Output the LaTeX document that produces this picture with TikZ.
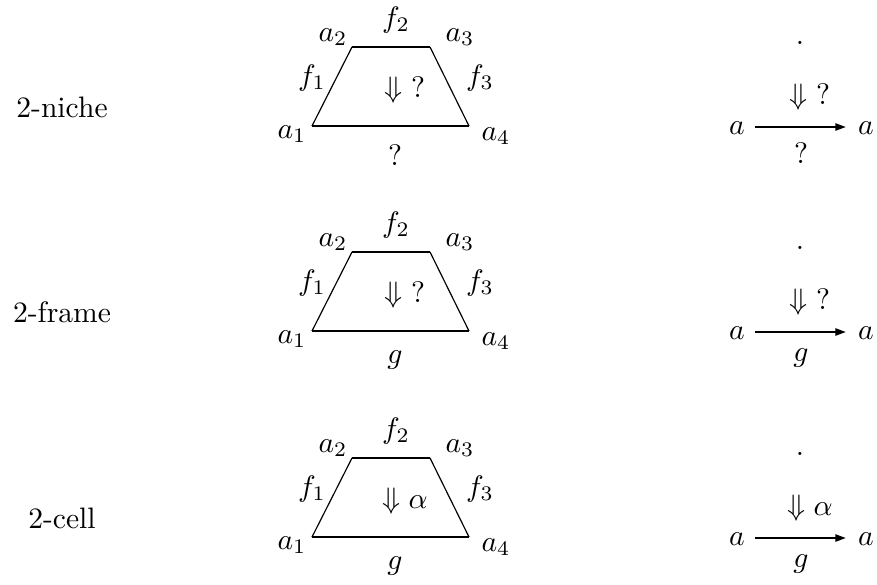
\documentclass[tikz,border=0pt]{standalone}
\usetikzlibrary{arrows.meta}
\begin{document}
\begin{tikzpicture}[x=0.3378pt,y=-0.3378pt,
  lbl/.style={inner sep=0pt,anchor=center},
  thickedge/.style={line width=0.8pt},
  thinedge/.style={line width=0.4pt},
  arr/.style={line width=0.7pt,-{Triangle[length=3.6pt,width=2.4pt]}}]
\useasboundingbox (0,0) rectangle (877,584);
\foreach \r/\dy/\nm/\bot/\cell in {1/0/2-niche/?/\mathord{?}, 2/205/2-frame/g/\mathord{?}, 3/411/2-cell/g/\alpha}{
  \begin{scope}[yshift=-\dy*0.3378pt]
    \node[lbl] (name\r) at (62,107) {\nm};
    \coordinate (p1\r) at (312,126);
    \coordinate (p2\r) at (352,47);
    \coordinate (p3\r) at (430,47);
    \coordinate (p4\r) at (469,126);
    \draw[thinedge] (p1\r) -- (p2\r);
    \draw[thickedge] (p2\r) -- (p3\r);
    \draw[thinedge] (p3\r) -- (p4\r);
    \draw[thickedge] (p1\r) -- (p4\r);
    \node[lbl] (la2\r) at (333,37) {$a_2$};
    \node[lbl] (lf2\r) at (396,20) {$f_2$};
    \node[lbl] (la3\r) at (460,37) {$a_3$};
    \node[lbl] (lf1\r) at (312,78) {$f_1$};
    \node[lbl] (lf3\r) at (480,78) {$f_3$};
    \node[lbl] (lc\r) at (405,90) {$\Downarrow\cell$};
    \node[lbl] (la1\r) at (292,134) {$a_1$};
    \node[lbl] (la4\r) at (496,136) {$a_4$};
    \node[lbl] (lg\r) at (395,155) {$\bot$};
    \node[lbl] (dot\r) at (800,43) {.};
    \node[lbl] (rc\r) at (810,97) {$\Downarrow\cell$};
    \node[lbl] (ra\r) at (737,128) {$a$};
    \node[lbl] (rb\r) at (866,128) {$a$};
    \coordinate (s\r) at (755,127);
    \coordinate (t\r) at (846,127);
    \draw[arr] (s\r) -- (t\r);
    \node[lbl] (rg\r) at (801,153) {$\bot$};
  \end{scope}
}
\end{tikzpicture}
\end{document}
